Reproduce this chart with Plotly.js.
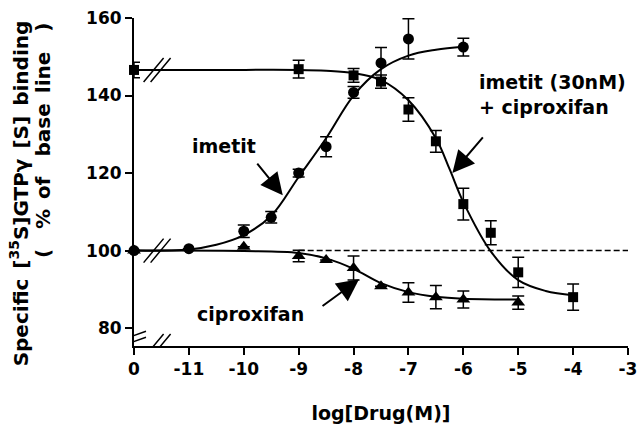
<!DOCTYPE html>
<html>
<head>
<meta charset="utf-8">
<script src="https://cdn.plot.ly/plotly-3.0.1.min.js"></script>
<style>
  html, body { margin: 0; padding: 0; background: #fff; }
  #plot { width: 640px; height: 427px; }
</style>
</head>
<body>
<div id="plot"></div>
<script>
// x position -12 stands for the "0" (no drug) point left of the axis break
const tickVals = [-12, -11, -10, -9, -8, -7, -6, -5, -4, -3];
const tickText = ['0', '-11', '-10', '-9', '-8', '-7', '-6', '-5', '-4', '-3'];
const yTicks = [80, 100, 120, 140, 160];

// imetit (circles)
const imetitX = [-12, -11, -10, -9.5, -9, -8.5, -8, -7.5, -7, -6];
const imetitY = [100, 100.5, 105, 108.6, 120, 126.8, 140.8, 148.4, 154.6, 152.5];
const imetitErr = [0, 0, 1.6, 1.5, 1, 2.6, 1.5, 4, 5.2, 2.3];
const imetitFitX = [-12, -11, -10.5, -10, -9.5, -9, -8.5, -8, -7.5, -7, -6.5, -6];
const imetitFitY = [100, 100.3, 101.5, 104, 109, 119, 129, 140, 146.8, 150.3, 151.8, 152.6];

// imetit (30nM) + ciproxifan (squares)
const comboX = [-12, -9, -8, -7.5, -7, -6.5, -6, -5.5, -5, -4];
const comboY = [146.6, 146.8, 145.2, 143.6, 136.4, 128.2, 112, 104.6, 94.4, 88];
const comboErr = [2, 2.3, 1.8, 1.7, 3, 2.8, 4.1, 3.1, 3.9, 3.4];
const comboFitX = [-12, -10.5, -9, -8.5, -8, -7.5, -7, -6.5, -6.25, -6, -5.5, -5, -4.5, -4];
const comboFitY = [146.6, 146.6, 146.6, 146.4, 145.8, 144, 138.8, 129, 121, 112.5, 99.8, 92.4, 89.6, 88.5];

// ciproxifan (triangles)
const ciproX = [-12, -10, -9, -8.5, -8, -7.5, -7, -6.5, -6, -5];
const ciproY = [100, 101, 98.6, 97.6, 95.5, 90.8, 89.2, 88, 87.4, 86.6];
const ciproErr = [0, 0, 1.5, 0, 3.1, 0, 2.5, 3, 2.2, 1.7];
const ciproFitX = [-12, -10, -9, -8.5, -8, -7.5, -7, -6.5, -6, -5];
const ciproFitY = [100, 99.9, 99.4, 98, 95.3, 91.6, 89.3, 88.1, 87.6, 87.4];

// baseline
const baseX = [-9, -3];
const baseY = [100, 100];

const FONT = 'DejaVu Sans';
const EN = '\u2002';
const breakX = -11.57;

function fitLine(x, y) {
    return {
        x: x, y: y, type: 'scatter', mode: 'lines',
        line: { color: '#000', width: 2, shape: 'spline', smoothing: 1 },
        hoverinfo: 'skip', showlegend: false
    };
}

function points(x, y, err, symbol, size) {
    return {
        x: x, y: y, type: 'scatter', mode: 'markers',
        marker: { symbol: symbol, color: '#000', size: size },
        error_y: { type: 'data', array: err, visible: true, color: '#000', thickness: 1.5, width: 6 },
        cliponaxis: false, showlegend: false
    };
}

const traces = [
    {
        x: baseX, y: baseY, type: 'scatter', mode: 'lines',
        line: { color: '#000', width: 1.5, dash: '6px,3px' }, showlegend: false
    },
    fitLine(imetitFitX, imetitFitY),
    fitLine(comboFitX, comboFitY),
    fitLine(ciproFitX, ciproFitY),
    points(ciproX, ciproY, ciproErr, 'triangle-up', 12),
    points(imetitX, imetitY, imetitErr, 'circle', 11),
    points(comboX, comboY, comboErr, 'square', 10)
];

function breakMark(xa, ya, path) {
    return {
        type: 'path', xref: 'x', yref: 'y', xsizemode: 'pixel', ysizemode: 'pixel',
        xanchor: xa, yanchor: ya, path: path,
        line: { color: '#000', width: 1.5 }, layer: 'above'
    };
}
const slash = 'M-14,-12L6,12M-7,-12L13,12';

const shapes = [
    breakMark(breakX, 146.6, slash),
    breakMark(breakX, 100, slash),
    breakMark(breakX, 75.4, slash),
    breakMark(-12, 77.4, 'M-11,-1L12,7M-11,-7L12,1')
];

function label(text, x, y, xanchor) {
    return {
        text: text, x: x, y: y, xref: 'x', yref: 'y', showarrow: false,
        xanchor: xanchor || 'center', yanchor: 'middle', align: 'left',
        font: { family: FONT, size: 19, weight: 'bold', color: '#000' }
    };
}

function arrow(x, y, ax, ay) {
    return {
        text: ' ', x: x, y: y, xref: 'x', yref: 'y', ax: ax, ay: ay,
        showarrow: true, arrowhead: 2, arrowsize: 2.2, arrowwidth: 2,
        arrowcolor: '#000', standoff: 0
    };
}

const annotations = [
    label('imetit', -10.36, 127.0),
    label('imetit (30nM)<br>+ ciproxifan', -5.75, 140.2, 'left'),
    label('ciproxifan', -9.87, 83.6),
    arrow(-9.29, 114.3, -30, -37),
    arrow(-6.2, 120, 35, -41),
    arrow(-7.9, 92.6, -41, 30),
    {
        text: 'Specific' + EN + '[<sup>35</sup>S]GTPγ' + EN + '[S]' + EN + 'binding',
        xref: 'paper', yref: 'paper', x: -0.231, y: 0.465, textangle: -90,
        showarrow: false, xanchor: 'center', yanchor: 'middle',
        font: { family: FONT, size: 20, weight: 'bold', color: '#000' }
    },
    {
        text: '(' + EN + EN + '%' + EN + 'of' + EN + EN + 'base' + EN + 'line' + EN + EN + ')',
        xref: 'paper', yref: 'paper', x: -0.184, y: 0.628, textangle: -90,
        showarrow: false, xanchor: 'center', yanchor: 'middle',
        font: { family: FONT, size: 20, weight: 'bold', color: '#000' }
    }
];

const layout = {
    width: 640, height: 427,
    margin: { l: 134, r: 12, t: 18, b: 81 },
    paper_bgcolor: '#fff', plot_bgcolor: '#fff',
    font: { family: FONT, size: 17, weight: 'bold', color: '#000' },
    showlegend: false,
    xaxis: {
        range: [-12, -3], tickvals: tickVals, ticktext: tickText,
        showgrid: false, zeroline: false, showline: true, linecolor: '#000', linewidth: 2,
        ticks: 'outside', ticklen: 7, tickwidth: 2, tickcolor: '#000',
        tickfont: { family: FONT, size: 17, weight: 'bold' },
        title: { text: 'log[Drug(M)]', standoff: 28, font: { family: FONT, size: 19, weight: 'bold' } }
    },
    yaxis: {
        range: [75.4, 160], tickvals: yTicks,
        showgrid: false, zeroline: false, showline: true, linecolor: '#000', linewidth: 2,
        ticks: 'outside', ticklen: 7, tickwidth: 2, tickcolor: '#000',
        tickfont: { family: FONT, size: 17, weight: 'bold' }
    },
    shapes: shapes,
    annotations: annotations
};

Plotly.newPlot('plot', traces, layout, { displayModeBar: false, staticPlot: true });
</script>
</body>
</html>
